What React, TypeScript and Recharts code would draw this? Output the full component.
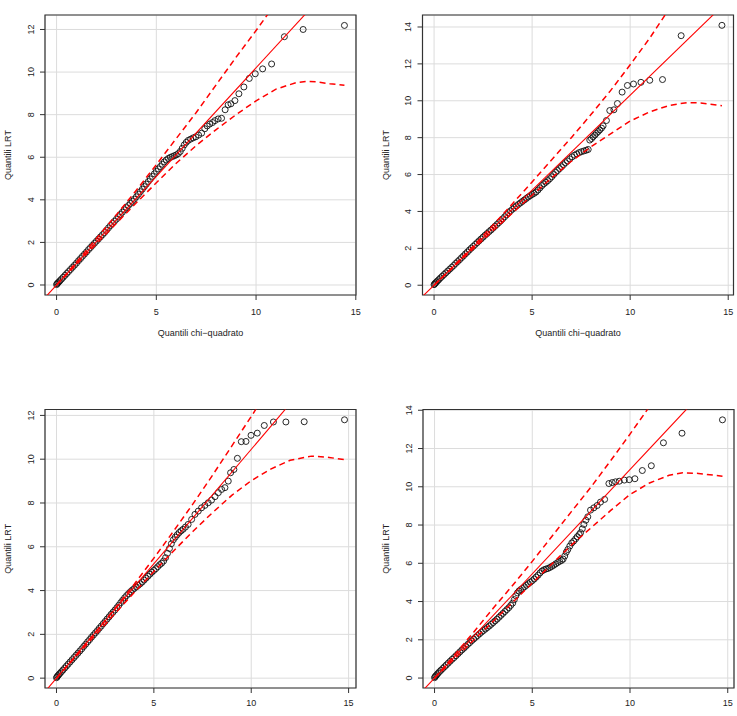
import React from 'react';
import { ComposedChart, Scatter, Line, XAxis, YAxis, CartesianGrid, ReferenceArea } from 'recharts';

type Pair = [number, number];

const FONT = '"Liberation Sans", Arial, Helvetica, sans-serif';

// ---- tick labels ----
const xTicks = [0, 5, 10, 15];
const yTicks12 = [0, 2, 4, 6, 8, 10, 12];
const yTicks14 = [0, 2, 4, 6, 8, 10, 12, 14];

// ---- axis titles ----
const xTitle = 'Quantili chi\u2212quadrato';
const yTitle = 'Quantili LRT';

// ---- panel 1 (top-left) ----
const points1: Pair[] = [
  [0.00,0.02],[0.03,0.06],[0.07,0.10],[0.12,0.15],[0.18,0.21],[0.25,0.28],[0.33,0.36],[0.42,0.45],[0.51,0.54],[0.60,0.63],
  [0.70,0.73],[0.80,0.83],[0.90,0.93],[1.00,1.03],[1.10,1.14],[1.20,1.24],[1.30,1.35],[1.40,1.45],[1.50,1.55],[1.60,1.66],
  [1.70,1.76],[1.80,1.86],[1.90,1.96],[2.00,2.06],[2.10,2.16],[2.20,2.26],[2.30,2.36],[2.40,2.46],[2.50,2.57],[2.60,2.68],
  [2.70,2.79],[2.80,2.89],[2.90,2.99],[3.00,3.09],[3.10,3.20],[3.20,3.31],[3.30,3.42],[3.40,3.53],[3.50,3.63],[3.60,3.73],
  [3.70,3.83],[3.80,3.93],[3.90,4.03],[4.00,4.14],[4.10,4.26],[4.20,4.38],[4.30,4.50],[4.40,4.62],[4.50,4.74],[4.60,4.86],
  [4.70,4.98],[4.80,5.10],[4.90,5.22],[5.00,5.34],[5.10,5.45],[5.20,5.56],[5.30,5.67],[5.40,5.78],[5.50,5.87],[5.60,5.94],
  [5.70,5.99],[5.80,6.03],[5.90,6.07],[6.00,6.11],[6.10,6.17],[6.20,6.27],[6.30,6.42],[6.40,6.58],[6.50,6.70],[6.60,6.79],
  [6.72,6.85],[6.85,6.91],[6.98,6.96],[7.12,7.04],[7.27,7.13],[7.43,7.34],[7.55,7.47],[7.68,7.56],[7.82,7.63],[7.94,7.72],
  [8.10,7.80],[8.27,7.83],[8.45,8.23],[8.60,8.46],[8.74,8.51],[8.94,8.66],[9.14,8.98],[9.39,9.30],[9.66,9.70],[9.96,9.92],
  [10.33,10.15],[10.78,10.38],[11.42,11.66],[12.36,12.00],[14.43,12.19],
];
const upper1: Pair[] = [[0,0],[1,1.08],[2,2.18],[3,3.3],[4,4.45],[5,5.65],[6,6.88],[7,8.1],[8,9.4],[9,10.7],[10,11.95],[11,13.25],[12,14.6]];
const lower1: Pair[] = [[0,0],[1,0.97],[2,1.94],[3,2.9],[4,3.86],[5,4.8],[6,5.72],[7,6.55],[8,7.3],[9,8.0],[10,8.65],[11,9.2],[12,9.5],[12.5,9.56],[13,9.54],[13.7,9.45],[14.43,9.38]];

// ---- panel 2 (top-right) ----
const points2: Pair[] = [
  [0.00,0.03],[0.03,0.07],[0.07,0.12],[0.12,0.17],[0.18,0.24],[0.25,0.31],[0.33,0.40],[0.42,0.49],[0.51,0.58],[0.60,0.67],
  [0.70,0.77],[0.80,0.87],[0.90,0.97],[1.00,1.07],[1.10,1.18],[1.20,1.28],[1.30,1.38],[1.40,1.49],[1.50,1.59],[1.60,1.70],
  [1.70,1.80],[1.80,1.91],[1.90,2.01],[2.00,2.11],[2.10,2.21],[2.20,2.31],[2.30,2.41],[2.40,2.51],[2.50,2.61],[2.60,2.71],
  [2.70,2.80],[2.80,2.90],[2.90,2.99],[3.00,3.09],[3.10,3.19],[3.20,3.29],[3.30,3.39],[3.40,3.49],[3.50,3.60],[3.60,3.71],
  [3.70,3.82],[3.80,3.93],[3.90,4.03],[4.00,4.12],[4.10,4.21],[4.20,4.30],[4.30,4.38],[4.40,4.46],[4.50,4.54],[4.60,4.62],
  [4.70,4.70],[4.80,4.78],[4.90,4.85],[5.00,4.92],[5.10,4.98],[5.20,5.05],[5.30,5.16],[5.40,5.28],[5.50,5.40],[5.60,5.50],
  [5.70,5.58],[5.80,5.67],[5.90,5.77],[6.00,5.88],[6.10,6.00],[6.20,6.12],[6.30,6.22],[6.40,6.32],[6.50,6.42],[6.60,6.53],
  [6.70,6.64],[6.80,6.74],[6.92,6.85],[7.04,6.96],[7.16,7.05],[7.28,7.12],[7.40,7.19],[7.52,7.24],[7.64,7.28],[7.76,7.32],
  [7.86,7.36],[7.94,7.87],[8.03,7.95],[8.11,8.05],[8.20,8.14],[8.28,8.24],[8.37,8.33],[8.45,8.42],[8.54,8.52],[8.62,8.64],
  [8.79,8.93],[8.96,9.47],[9.17,9.51],[9.35,9.85],[9.59,10.47],[9.86,10.83],[10.17,10.91],[10.55,11.00],[11.00,11.11],[11.65,11.15],
  [12.60,13.53],[14.68,14.09],
];
const upper2: Pair[] = [[0,0],[1,1.05],[2,2.12],[3,3.25],[4,4.42],[5,5.6],[6,6.8],[7,8.0],[8,9.25],[9,10.55],[10,11.95],[11,13.4],[12,15.0]];
const lower2: Pair[] = [[0,0],[1,0.99],[2,1.98],[3,2.95],[4,3.92],[5,4.88],[6,5.82],[7,6.72],[8,7.5],[9,8.2],[10,8.9],[11,9.4],[12,9.75],[12.9,9.9],[13.6,9.88],[14.68,9.73]];

// ---- panel 3 (bottom-left) ----
const points3: Pair[] = [
  [0.00,0.02],[0.03,0.06],[0.07,0.11],[0.12,0.16],[0.18,0.22],[0.25,0.29],[0.33,0.37],[0.42,0.46],[0.51,0.55],[0.60,0.64],
  [0.70,0.74],[0.80,0.84],[0.90,0.94],[1.00,1.04],[1.10,1.14],[1.20,1.24],[1.30,1.34],[1.40,1.45],[1.50,1.55],[1.60,1.66],
  [1.70,1.76],[1.80,1.87],[1.90,1.97],[2.00,2.07],[2.10,2.17],[2.20,2.28],[2.30,2.38],[2.40,2.49],[2.50,2.59],[2.60,2.70],
  [2.70,2.80],[2.80,2.91],[2.90,3.01],[3.00,3.11],[3.10,3.22],[3.20,3.33],[3.30,3.45],[3.40,3.56],[3.50,3.67],[3.60,3.77],
  [3.70,3.86],[3.80,3.95],[3.90,4.03],[4.00,4.10],[4.10,4.17],[4.20,4.24],[4.30,4.31],[4.40,4.39],[4.50,4.48],[4.60,4.57],
  [4.70,4.66],[4.80,4.75],[4.90,4.84],[5.00,4.92],[5.10,5.00],[5.20,5.09],[5.30,5.18],[5.40,5.25],[5.50,5.35],[5.60,5.50],
  [5.70,5.70],[5.80,5.92],[5.90,6.14],[6.00,6.32],[6.10,6.44],[6.20,6.55],[6.30,6.65],[6.40,6.73],[6.50,6.80],[6.62,6.90],
  [6.76,7.02],[6.94,7.25],[7.11,7.48],[7.28,7.63],[7.45,7.78],[7.62,7.89],[7.79,8.01],[7.96,8.13],[8.14,8.29],[8.31,8.47],
  [8.48,8.62],[8.65,8.70],[8.82,9.00],[8.94,9.38],[9.11,9.53],[9.29,10.04],[9.49,10.80],[9.73,10.81],[9.99,11.09],[10.31,11.19],
  [10.67,11.54],[11.14,11.70],[11.78,11.70],[12.72,11.71],[14.79,11.80],
];
const upper3: Pair[] = [[0,0],[1,1.04],[2,2.1],[3,3.18],[4,4.3],[5,5.48],[6,6.7],[7,7.95],[8,9.25],[9,10.6],[10,11.95],[11,13.35],[12,14.8]];
const lower3: Pair[] = [[0,0],[1,0.99],[2,1.97],[3,2.95],[4,3.92],[5,4.87],[6,5.8],[7,6.7],[8,7.55],[9,8.35],[10,9.02],[11,9.55],[12,9.95],[13.1,10.14],[14,10.08],[14.79,9.98]];

// ---- panel 4 (bottom-right) ----
const points4: Pair[] = [
  [0.00,0.02],[0.03,0.07],[0.07,0.12],[0.12,0.18],[0.18,0.25],[0.25,0.33],[0.33,0.41],[0.42,0.50],[0.51,0.59],[0.60,0.68],
  [0.70,0.78],[0.80,0.88],[0.90,0.98],[1.00,1.07],[1.10,1.17],[1.20,1.27],[1.30,1.37],[1.40,1.47],[1.50,1.56],[1.60,1.66],
  [1.70,1.76],[1.80,1.85],[1.90,1.95],[2.00,2.04],[2.10,2.13],[2.20,2.22],[2.30,2.31],[2.40,2.40],[2.50,2.48],[2.60,2.56],
  [2.70,2.64],[2.80,2.72],[2.90,2.81],[3.00,2.90],[3.10,2.99],[3.20,3.08],[3.30,3.18],[3.40,3.28],[3.50,3.38],[3.60,3.48],
  [3.70,3.58],[3.80,3.68],[3.90,3.80],[4.00,3.92],[4.08,4.10],[4.16,4.30],[4.24,4.45],[4.32,4.55],[4.40,4.62],[4.50,4.69],
  [4.60,4.77],[4.70,4.85],[4.80,4.93],[4.90,5.01],[5.00,5.09],[5.10,5.18],[5.20,5.28],[5.30,5.38],[5.40,5.50],[5.50,5.60],
  [5.60,5.66],[5.70,5.70],[5.80,5.73],[5.90,5.78],[6.00,5.84],[6.10,5.90],[6.20,5.97],[6.30,6.04],[6.40,6.10],[6.50,6.15],
  [6.58,6.22],[6.66,6.38],[6.74,6.58],[6.82,6.72],[6.92,6.90],[7.02,7.06],[7.12,7.16],[7.22,7.28],[7.30,7.39],[7.40,7.50],
  [7.47,7.60],[7.56,7.80],[7.64,8.03],[7.74,8.25],[7.84,8.43],[7.98,8.78],[8.15,8.90],[8.32,9.02],[8.49,9.20],[8.70,9.34],
  [8.92,10.17],[9.09,10.22],[9.26,10.26],[9.45,10.29],[9.71,10.35],[9.96,10.37],[10.25,10.42],[10.63,10.85],[11.09,11.10],[11.71,12.30],
  [12.66,12.80],[14.73,13.50],
];
const upper4: Pair[] = [[0,0],[1,1.18],[2,2.4],[3,3.65],[4,4.85],[5,6.1],[6,7.4],[7,8.7],[8,9.98],[9,11.35],[10,12.75],[11,14.2],[12,15.7]];
const lower4: Pair[] = [[0,0],[1,0.99],[2,1.98],[3,2.97],[4,3.96],[5,4.96],[6,5.96],[7,6.95],[8,7.85],[9,8.75],[10,9.6],[11,10.2],[12,10.6],[12.7,10.73],[13.5,10.7],[14.73,10.55]];

// ---- reference line (intercept, slope) per panel ----
const refLines: Pair[] = [[0, 1.02], [0, 1.03], [0, 1.045], [0, 1.09]];
const refLineX = [-1, 17];

// ---- axis domains per panel ----
const xDomains: Pair[] = [[-0.58, 15.01], [-0.59, 15.27], [-0.59, 15.38], [-0.59, 15.32]];
const yDomains: Pair[] = [[-0.47, 12.68], [-0.53, 14.65], [-0.45, 12.27], [-0.52, 14.04]];

const toXY = (pairs: Pair[]) => pairs.map(([x, y]) => ({ x, y }));

interface Layout {
  left: number; top: number; width: number; height: number;
  margin: { top: number; right: number; bottom: number; left: number };
  yAxisWidth: number; xAxisHeight: number; xTickMargin: number; showXTitle: boolean;
}

const layouts: Layout[] = [
  { left: 0, top: 0, width: 368, height: 345, margin: { top: 15, right: 12, bottom: 0, left: 0 }, yAxisWidth: 45, xAxisHeight: 50, xTickMargin: 8.5, showXTitle: true },
  { left: 368, top: 0, width: 369, height: 345, margin: { top: 15, right: 3.5, bottom: 0, left: 0 }, yAxisWidth: 54.5, xAxisHeight: 50, xTickMargin: 8.5, showXTitle: true },
  { left: 0, top: 358, width: 368, height: 358, margin: { top: 51.5, right: 12, bottom: 0, left: 0 }, yAxisWidth: 45, xAxisHeight: 28, xTickMargin: 6.5, showXTitle: false },
  { left: 368, top: 358, width: 369, height: 358, margin: { top: 51.5, right: 3, bottom: 0, left: 0 }, yAxisWidth: 55, xAxisHeight: 28, xTickMargin: 6.5, showXTitle: false },
];

const OpenCircle = (p: any) => {
  if (p.cx == null || p.cy == null) return null;
  return <circle cx={p.cx} cy={p.cy} r={3} fill="none" stroke="#111" strokeWidth={0.9} />;
};

const YTick = (p: any) => {
  const { x, y, payload } = p;
  return (
    <text x={x} y={y} transform={`rotate(-90 ${x} ${y})`} textAnchor="middle" fontSize={9} fill="#222" fontFamily={FONT}>
      {payload.value}
    </text>
  );
};

const YTitle = (p: any) => {
  const vb = p.viewBox || {};
  const plotLeft = (vb.x ?? 0) + (vb.width ?? 0);
  const bx = plotLeft - 33.6;
  const cy = (vb.y ?? 0) + (vb.height ?? 0) / 2;
  return (
    <text x={bx} y={cy} transform={`rotate(-90 ${bx} ${cy})`} textAnchor="middle" fontSize={9} fill="#222" fontFamily={FONT}>
      {yTitle}
    </text>
  );
};

const XTitle = (p: any) => {
  const vb = p.viewBox || {};
  const cx = (vb.x ?? 0) + (vb.width ?? 0) / 2;
  const by = (vb.y ?? 0) + 40.5;
  return (
    <text x={cx} y={by} textAnchor="middle" fontSize={9} fill="#222" fontFamily={FONT}>
      {xTitle}
    </text>
  );
};

interface PanelProps {
  layout: Layout; points: Pair[]; upper: Pair[]; lower: Pair[];
  refLine: Pair; xDomain: Pair; yDomain: Pair; yTicks: number[];
}

function Panel({ layout, points, upper, lower, refLine, xDomain, yDomain, yTicks }: PanelProps) {
  const pts = toXY(points);
  const up = toXY(upper);
  const lo = toXY(lower);
  const ab = refLineX.map((x) => ({ x, y: refLine[0] + refLine[1] * x }));
  return (
    <div style={{ position: 'absolute', left: layout.left, top: layout.top, width: layout.width, height: layout.height }}>
      <ComposedChart width={layout.width} height={layout.height} margin={layout.margin} style={{ fontFamily: FONT }}>
        <CartesianGrid stroke="#dcdcdc" strokeWidth={1} />
        <XAxis
          type="number" dataKey="x" domain={xDomain} allowDataOverflow ticks={xTicks} interval={0}
          height={layout.xAxisHeight} tickSize={5} tickMargin={layout.xTickMargin} axisLine={false}
          tickLine={{ stroke: '#333' }} tick={{ fontSize: 9, fill: '#222', fontFamily: FONT }}
          label={layout.showXTitle ? { content: (p: any) => <XTitle {...p} /> } : undefined}
        />
        <YAxis
          type="number" dataKey="y" domain={yDomain} allowDataOverflow ticks={yTicks} interval={0}
          width={layout.yAxisWidth} tickSize={5} tickMargin={6} axisLine={false}
          tickLine={{ stroke: '#333' }} tick={(p: any) => <YTick {...p} />}
          label={{ content: (p: any) => <YTitle {...p} /> }}
        />
        <Scatter data={pts} dataKey="y" shape={(p: any) => <OpenCircle {...p} />} isAnimationActive={false} zIndex={350} />
        <Line data={ab} dataKey="y" type="linear" stroke="#ff0000" strokeWidth={1.1} dot={false} activeDot={false} isAnimationActive={false} />
        <Line data={up} dataKey="y" type="linear" stroke="#ff0000" strokeWidth={1.5} strokeDasharray="6 4" dot={false} activeDot={false} isAnimationActive={false} />
        <Line data={lo} dataKey="y" type="linear" stroke="#ff0000" strokeWidth={1.5} strokeDasharray="6 4" dot={false} activeDot={false} isAnimationActive={false} />
        <ReferenceArea x1={xDomain[0]} x2={xDomain[1]} y1={yDomain[0]} y2={yDomain[1]} fill="none" fillOpacity={0} stroke="#333" strokeWidth={1.2} ifOverflow="visible" />
      </ComposedChart>
    </div>
  );
}

export default function App() {
  return (
    <div style={{ position: 'absolute', left: 0, top: 0, width: 737, height: 716, overflow: 'hidden', background: '#fff' }}>
      <Panel layout={layouts[0]} points={points1} upper={upper1} lower={lower1} refLine={refLines[0]} xDomain={xDomains[0]} yDomain={yDomains[0]} yTicks={yTicks12} />
      <Panel layout={layouts[1]} points={points2} upper={upper2} lower={lower2} refLine={refLines[1]} xDomain={xDomains[1]} yDomain={yDomains[1]} yTicks={yTicks14} />
      <Panel layout={layouts[2]} points={points3} upper={upper3} lower={lower3} refLine={refLines[2]} xDomain={xDomains[2]} yDomain={yDomains[2]} yTicks={yTicks12} />
      <Panel layout={layouts[3]} points={points4} upper={upper4} lower={lower4} refLine={refLines[3]} xDomain={xDomains[3]} yDomain={yDomains[3]} yTicks={yTicks14} />
    </div>
  );
}
